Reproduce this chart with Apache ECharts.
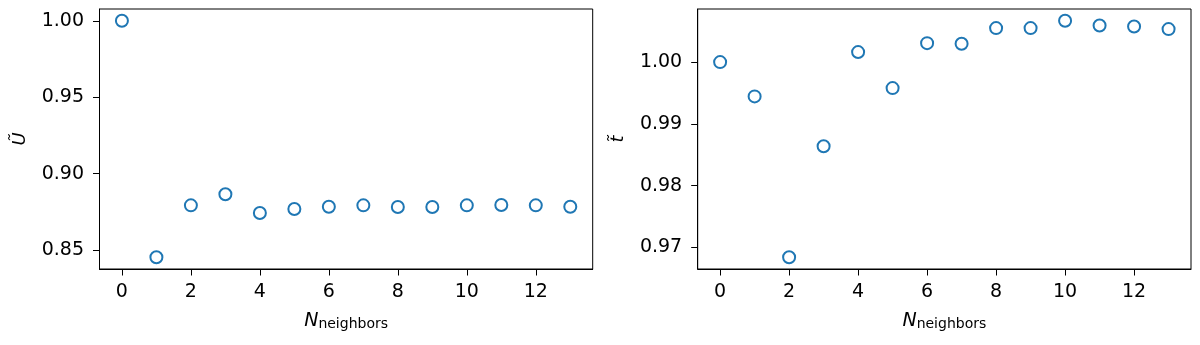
<!DOCTYPE html>
<html>
<head>
<meta charset="utf-8">
<script src="https://cdn.jsdelivr.net/npm/echarts@6/dist/echarts.min.js"></script>
<style>html,body{margin:0;padding:0;background:#fff}#c{width:1200px;height:345px}</style>
</head>
<body>
<div id="c"></div>
<script>
const nNeighbors = [0,1,2,3,4,5,6,7,8,9,10,11,12,13];
const uTilde = [1.000,0.8454,0.8793,0.8866,0.8743,0.8769,0.8784,0.8793,0.8782,0.8782,0.8793,0.8795,0.8793,0.8784];
const tTilde = [1.000,0.99445,0.96843,0.98639,1.00162,0.99579,1.00307,1.00296,1.0055,1.0055,1.00668,1.00593,1.00577,1.00534];
const xTicks = [0,2,4,6,8,10,12];
const uTicks = [0.85,0.90,0.95,1.00];
const tTicks = [0.97,0.98,0.99,1.00];

function pad(arr){ const mn=Math.min(...arr), mx=Math.max(...arr), m=(mx-mn)*0.05; return [mn-m, mx+m]; }
const xr = pad(nNeighbors), ur = pad(uTilde), tr = pad(tTilde);
const FONT = 'DejaVu Sans';
const BLUE = '#1f77b4';

function xAxis(idx){
  return {
    type:'value', gridIndex:idx, min:xr[0], max:xr[1],
    splitLine:{show:false},
    axisLine:{show:true, onZero:false, lineStyle:{color:'#000', width:1}},
    axisTick:{show:true, length:6.5, lineStyle:{color:'#000', width:1}, customValues:xTicks},
    axisLabel:{color:'#000', fontFamily:FONT, fontSize:19, margin:14, customValues:xTicks},
    name:'{i|N}{s|neighbors}', nameLocation:'middle', nameGap:42,
    nameTextStyle:{rich:{i:{fontFamily:FONT, fontStyle:'italic', fontSize:19, color:'#000', verticalAlign:'bottom'}, s:{fontFamily:FONT, fontSize:14, color:'#000', padding:[6,0,0,0]}}}
  };
}
function yAxis(idx, r, ticks, name){
  return {
    type:'value', gridIndex:idx, min:r[0], max:r[1],
    splitLine:{show:false},
    axisLine:{show:true, onZero:false, lineStyle:{color:'#000', width:1}},
    axisTick:{show:true, length:6.5, lineStyle:{color:'#000', width:1}, customValues:ticks},
    axisLabel:{color:'#000', fontFamily:FONT, fontSize:19, margin:15.5, customValues:ticks, formatter:v=>v.toFixed(2)},
    name:name, nameLocation:'middle', nameGap:70, nameRotate:90,
    nameTextStyle:{fontFamily:FONT, fontStyle:'italic', fontSize:18, color:'#000'}
  };
}
function ser(idx, vals){
  return {
    type:'scatter', xAxisIndex:idx, yAxisIndex:idx,
    data:nNeighbors.map((x,i)=>[x,vals[i]]),
    symbol:'circle', symbolSize:12,
    itemStyle:{color:'rgba(255,255,255,0)', borderColor:BLUE, borderWidth:2, opacity:1},
    emphasis:{disabled:true}
  };
}
const chart = echarts.init(document.getElementById('c'), null, {renderer:'canvas'});
chart.setOption({
  animation:false,
  backgroundColor:'#fff',
  grid:[
    {left:99.5, right:607.3, top:9, bottom:76, show:true, borderColor:'#000', borderWidth:1},
    {left:697.7, right:9, top:9, bottom:76, show:true, borderColor:'#000', borderWidth:1}
  ],
  xAxis:[xAxis(0), xAxis(1)],
  yAxis:[yAxis(0, ur, uTicks, '\u0168'), yAxis(1, tr, tTicks, 't\u0303')],
  series:[ser(0, uTilde), ser(1, tTilde)]
});
</script>
</body>
</html>
